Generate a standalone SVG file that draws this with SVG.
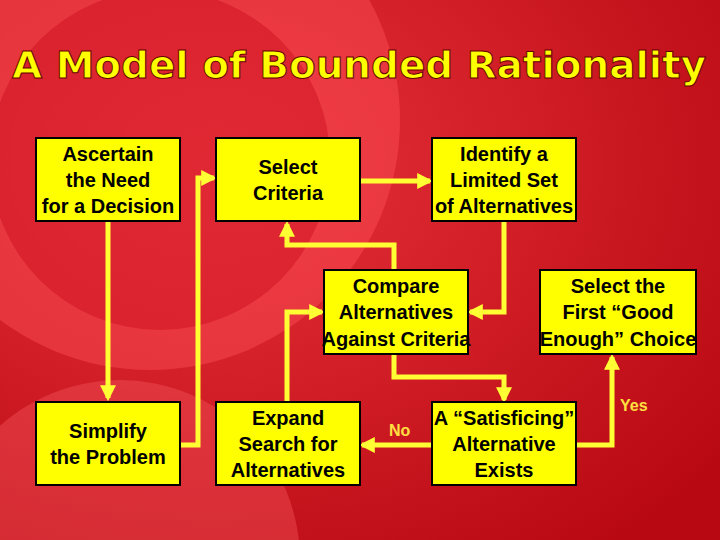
<svg xmlns="http://www.w3.org/2000/svg" width="720" height="540" viewBox="0 0 720 540">
<defs>
<radialGradient id="bg" cx="0.3" cy="0.3" r="0.9">
<stop offset="0" stop-color="#e8323a"/><stop offset="1" stop-color="#b80812"/>
</radialGradient>
<marker id="ah" viewBox="0 0 10 10" refX="8" refY="5" markerWidth="3.2" markerHeight="3.2" orient="auto" markerUnits="strokeWidth">
<path d="M0,0 L10,5 L0,10 z" fill="#ffff33"/>
</marker>
<style>
.box{fill:#ffff00;stroke:#000;stroke-width:2}
.t{font-family:"Liberation Sans",Arial,sans-serif;font-weight:bold;font-size:20px;fill:#000;text-anchor:middle}
.c{fill:none;stroke:#ffff33;stroke-width:5;marker-end:url(#ah)}
.lab{font-family:"Liberation Sans",Arial,sans-serif;font-weight:bold;font-size:16px;fill:#ffe040}
</style>
</defs>
<rect width="720" height="540" fill="url(#bg)"/>
<circle cx="150" cy="120" r="250" fill="#ff5058" opacity="0.45"/>
<circle cx="160" cy="160" r="170" fill="#c00010" opacity="0.35"/>
<circle cx="120" cy="560" r="180" fill="#ff6068" opacity="0.35"/>
<text x="359" y="78" font-family="'DejaVu Sans',sans-serif" font-weight="bold" font-size="38" fill="#ffff00" stroke="#600" stroke-width="1" text-anchor="middle" textLength="694" lengthAdjust="spacingAndGlyphs">A Model of Bounded Rationality</text>
<g id="connectors">
<path class="c" d="M108,222 V398"/>
<path class="c" d="M180,445 H198 V178 H214"/>
<path class="c" d="M360,181 H430"/>
<path class="c" d="M504,222 V312 H470"/>
<path class="c" d="M394,270 V245 H287 V224"/>
<path class="c" d="M287,402 V312 H322"/>
<path class="c" d="M394,354 V377 H504 V400"/>
<path class="c" d="M432,445 H362"/>
<path class="c" d="M576,445 H612 V357"/>
</g>
<text class="lab" x="389" y="436">No</text>
<text class="lab" x="620" y="411">Yes</text>
<g id="n1"><rect class="box" x="36" y="138" width="144" height="83"/><text class="t"><tspan x="108" y="161">Ascertain</tspan><tspan x="108" y="187">the Need</tspan><tspan x="108" y="213">for a Decision</tspan></text></g>
<g id="n2"><rect class="box" x="216" y="138" width="144" height="83"/><text class="t"><tspan x="288" y="174">Select</tspan><tspan x="288" y="200">Criteria</tspan></text></g>
<g id="n3"><rect class="box" x="432" y="138" width="144" height="83"/><text class="t"><tspan x="504" y="161">Identify a</tspan><tspan x="504" y="187">Limited Set</tspan><tspan x="504" y="213">of Alternatives</tspan></text></g>
<g id="n4"><rect class="box" x="324" y="270" width="144" height="84"/><text class="t"><tspan x="396" y="293">Compare</tspan><tspan x="396" y="319">Alternatives</tspan><tspan x="396" y="346">Against Criteria</tspan></text></g>
<g id="n5"><rect class="box" x="540" y="270" width="156" height="84"/><text class="t"><tspan x="618" y="293">Select the</tspan><tspan x="618" y="319">First “Good</tspan><tspan x="618" y="346">Enough” Choice</tspan></text></g>
<g id="n6"><rect class="box" x="36" y="402" width="144" height="83"/><text class="t"><tspan x="108" y="438">Simplify</tspan><tspan x="108" y="464">the Problem</tspan></text></g>
<g id="n7"><rect class="box" x="216" y="402" width="144" height="83"/><text class="t"><tspan x="288" y="425">Expand</tspan><tspan x="288" y="451">Search for</tspan><tspan x="288" y="477">Alternatives</tspan></text></g>
<g id="n8"><rect class="box" x="432" y="402" width="144" height="83"/><text class="t"><tspan x="504" y="425">A “Satisficing”</tspan><tspan x="504" y="451">Alternative</tspan><tspan x="504" y="477">Exists</tspan></text></g>
</svg>
